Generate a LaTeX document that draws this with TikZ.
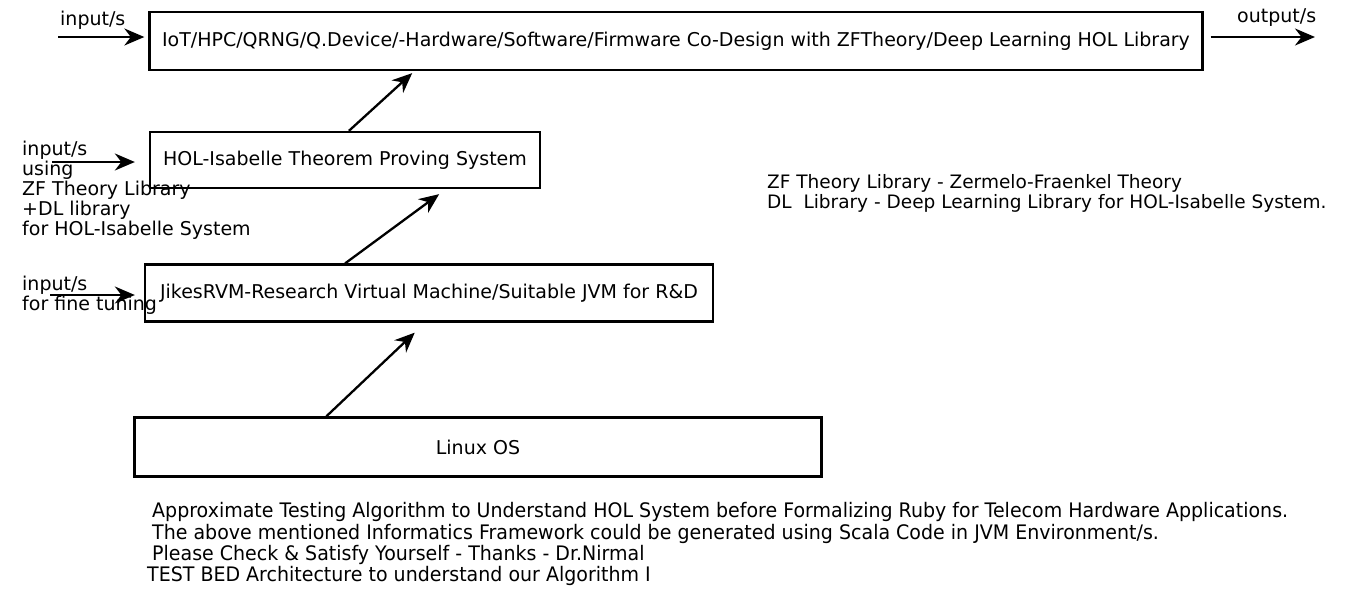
\documentclass[tikz,border=0pt]{standalone}
\usepackage{fontspec}
\setmainfont{DejaVu Sans}
\newfontfamily\narrowfont[FakeStretch=0.95]{DejaVu Sans}
\usetikzlibrary{calc, arrows.meta}

\begin{document}
\begin{tikzpicture}[x=1pt, y=-1pt,
        layer/.style={draw, line width=2.3pt, minimum height=57pt, inner sep=0pt, font=\fontsize{19}{22}\selectfont},
        flow/.style={line width=2.3pt, -{Stealth[length=20pt, width=17pt]}},
        lbl/.style={anchor=west, inner sep=0pt, font=\fontsize{19}{20}\selectfont},
        note/.style={anchor=west, inner sep=0pt, font=\narrowfont\fontsize{20}{22}\selectfont},
        ]
    \useasboundingbox (0,0) rectangle (1350,589);

    \node (top) at (676,41) [layer, minimum width=1053pt, minimum height=58pt] {IoT/HPC/QRNG/Q.Device/-Hardware/Software/Firmware Co-Design with ZFTheory/Deep Learning HOL Library};
    \node (hol) at (345,160) [layer, minimum width=390pt, minimum height=56pt] {HOL-Isabelle Theorem Proving System};
    \node (jikes) at (429,293) [layer, minimum width=568pt] {JikesRVM-Research Virtual Machine/Suitable JVM for R\&D};
    \node (linux) at (478,447) [layer, minimum width=687pt, minimum height=59pt] {Linux OS};

    % upward flow between the layers
    \draw [flow] ($(linux.north west)!0.28!(linux.north east)$) -- ($(jikes.south west)!0.475!(jikes.south east) + (0,10)$);
    \draw [flow] ($(jikes.north west)!0.353!(jikes.north east)$) -- ($(hol.south west)!0.74!(hol.south east) + (0,5)$);
    \draw [flow] ($(hol.north west)!0.51!(hol.north east)$) -- ($(top.south west)!0.25!(top.south east) + (0,2)$);

    % inputs and outputs
    \coordinate (in1) at (58,37);
    \node (in1lbl) at (60,20) [lbl] {input/s};
    \draw [flow, shorten >=4pt] (in1) -- (top.west |- in1);

    \coordinate (in2) at (52,162);
    \node (in2lbl) at (22,190) [lbl, align=left] {input/s\\using\\ZF Theory Library\\+DL library\\for HOL-Isabelle System};
    \draw [flow, shorten >=14pt] (in2) -- (hol.west |- in2);

    \coordinate (in3) at (50,295);
    \node (in3lbl) at (22,295) [lbl, align=left] {input/s\\for fine tuning};
    \draw [flow, shorten >=9pt] (in3) -- (jikes.west |- in3);

    \coordinate (out) at (1315,37);
    \node (outlbl) at (1237,18) [lbl] {output/s};
    \draw [flow, shorten <=7pt] (top.east |- out) -- (out);

    % legend
    \node (legend) at (767,193) [lbl, align=left, font=\fontsize{18.5}{20}\selectfont] {ZF Theory Library - Zermelo-Fraenkel Theory\\DL\ \ Library - Deep Learning Library for HOL-Isabelle System.};

    % remarks below
    \node (rem1) at (152,512) [note] {Approximate Testing Algorithm to Understand HOL System before Formalizing Ruby for Telecom Hardware Applications.};
    \node (rem2) at (152,534) [note] {The above mentioned Informatics Framework could be generated using Scala Code in JVM Environment/s.};
    \node (rem3) at (152,555) [note] {Please Check \& Satisfy Yourself - Thanks - Dr.Nirmal};
    \node (rem4) at (147,576) [note] {TEST BED Architecture to understand our Algorithm I};
\end{tikzpicture}
\end{document}
